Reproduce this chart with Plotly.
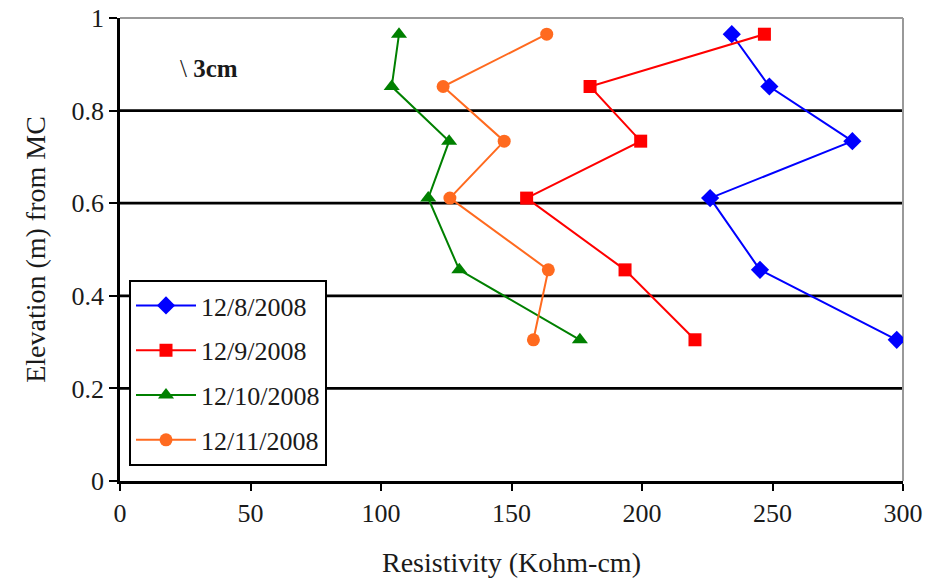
import plotly.graph_objects as go

# Elevation of the measurement points (m from MC)
elevation = [0.965, 0.852, 0.734, 0.611, 0.456, 0.305]

# Resistivity readings (Kohm-cm) per survey date
res_12_8 = [234.4, 248.8, 280.6, 226.1, 245.2, 297.6]
res_12_9 = [246.9, 180.1, 199.5, 155.8, 193.5, 220.3]
res_12_10 = [106.9, 104.1, 126.1, 118.1, 130.0, 176.2]
res_12_11 = [163.5, 123.8, 147.2, 126.4, 164.1, 158.4]

series_names = ["12/8/2008", "12/9/2008", "12/10/2008", "12/11/2008"]
series_values = [res_12_8, res_12_9, res_12_10, res_12_11]
series_colors = ["#0000FF", "#FF0000", "#008000", "#FF6A1F"]
series_symbols = ["diamond", "square", "triangle-up", "circle"]
series_sizes = [14, 13, 14, 13]

x_ticks = [0, 50, 100, 150, 200, 250, 300]
y_ticks = [0, 0.2, 0.4, 0.6, 0.8, 1]
y_tick_labels = ["0", "0.2", "0.4", "0.6", "0.8", "1"]

FONT = "Liberation Serif"
TXT = "#1a1a1a"

fig = go.Figure()
for name, vals, col, sym, sz in zip(series_names, series_values, series_colors,
                                     series_symbols, series_sizes):
    fig.add_trace(go.Scatter(
        x=vals, y=elevation, name=name, mode="lines+markers",
        legendgroup=name,
        line=dict(color=col, width=2),
        marker=dict(color=col, symbol=sym, size=sz, line=dict(width=0)),
    ))

# horizontal gridlines at the interior ticks, gray frame on top/right
shapes = []
for v in y_ticks[1:-1]:
    shapes.append(dict(type="line", xref="paper", yref="y", x0=0, x1=1, y0=v, y1=v,
                       line=dict(color="black", width=2.8), layer="below"))
shapes.append(dict(type="line", xref="paper", yref="paper", x0=0, x1=1, y0=1, y1=1,
                   line=dict(color="#999999", width=2), layer="below"))
shapes.append(dict(type="line", xref="paper", yref="paper", x0=1, x1=1, y0=0, y1=1,
                   line=dict(color="#999999", width=2), layer="below"))

fig.update_layout(
    width=942, height=582,
    margin=dict(l=120, r=39, t=18, b=101, autoexpand=False),
    paper_bgcolor="white", plot_bgcolor="white",
    font=dict(family=FONT, size=26, color=TXT),
    shapes=shapes,
    showlegend=True,
    legend=dict(
        x=0.0115, y=0.434, xanchor="left", yanchor="top",
        bgcolor="white", bordercolor="black", borderwidth=2,
        font=dict(family=FONT, size=26, color=TXT),
        tracegroupgap=8, itemwidth=60,
    ),
    xaxis=dict(
        range=[0, 300], tickvals=x_ticks, ticktext=[str(t) for t in x_ticks],
        showgrid=False, zeroline=False, automargin=False,
        showline=True, linecolor="black", linewidth=2.5,
        ticks="outside", ticklen=7, tickwidth=2, tickcolor="black",
        tickfont=dict(family=FONT, size=26, color=TXT),
        title=dict(text="Resistivity (Kohm-cm)", standoff=26,
                   font=dict(family=FONT, size=28, color=TXT)),
    ),
    yaxis=dict(
        range=[0, 1], tickvals=y_ticks, ticktext=y_tick_labels,
        showgrid=False, zeroline=False, automargin=False,
        showline=True, linecolor="black", linewidth=2.5,
        ticks="outside", ticklen=8, tickwidth=2, tickcolor="black",
        tickfont=dict(family=FONT, size=26, color=TXT),
        title=dict(text="Elevation (m) from MC", standoff=18,
                   font=dict(family=FONT, size=28, color=TXT)),
    ),
    annotations=[dict(
        text="\\ <b>3cm</b>", xref="x", yref="y", x=34, y=0.892,
        showarrow=False, font=dict(family=FONT, size=25, color=TXT),
    )],
)

fig.write_html("out.html")
